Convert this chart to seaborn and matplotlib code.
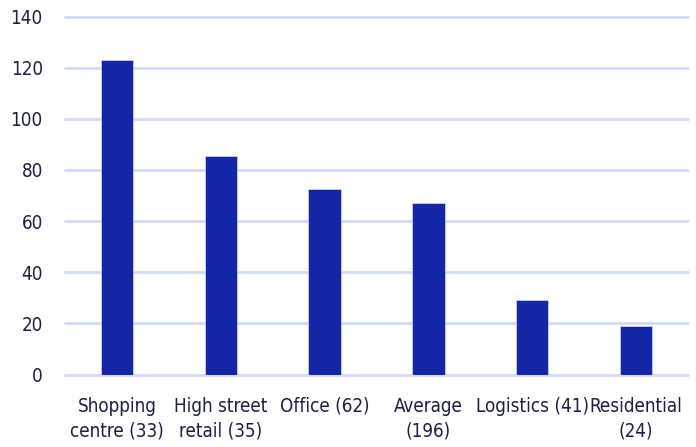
import matplotlib
matplotlib.use("Agg")
import matplotlib.pyplot as plt
import seaborn as sns
import pandas as pd

categories = ["Shopping\ncentre (33)", "High street\nretail (35)", "Office (62)",
              "Average\n(196)", "Logistics (41)", "Residential\n(24)"]
values = [123, 85.5, 72.5, 67.2, 29, 19]
y_ticks = [0, 20, 40, 60, 80, 100, 120, 140]

BAR = "#1226A6"
GRID = "#D3D9F1"
TEXT = "#1B1F45"

sns.set_theme(style="white")
plt.rcParams["font.family"] = ["DejaVu Sans"]
plt.rcParams["font.stretch"] = "condensed"

df = pd.DataFrame({"category": categories, "value": values})

fig = plt.figure(figsize=(6.96, 4.47), dpi=100)
ax = fig.add_axes([0.0934, 0.162, 0.8951, 0.801])

sns.barplot(data=df, x="category", y="value", color=BAR, width=0.31,
            saturation=1, edgecolor="#C9D0F0", linewidth=0.6, ax=ax, zorder=3)

ax.set_ylim(0, 140)
ax.set_xlim(-0.5, len(categories) - 0.5)
ax.set_yticks(y_ticks)
for t in y_ticks:
    ax.axhline(t, color=GRID, linewidth=2, zorder=1, clip_on=False)

for s in ax.spines.values():
    s.set_visible(False)
ax.grid(False)
ax.set_xlabel("")
ax.set_ylabel("")
ax.tick_params(axis="y", length=0, pad=16, labelsize=13.5, labelcolor=TEXT)
ax.tick_params(axis="x", length=0, pad=16, labelsize=13.5, labelcolor=TEXT)
for lbl in ax.get_xticklabels() + ax.get_yticklabels():
    lbl.set_fontstretch("condensed")
for lbl in ax.get_xticklabels():
    lbl.set_linespacing(1.4)

fig.savefig("out.png", dpi=100)
